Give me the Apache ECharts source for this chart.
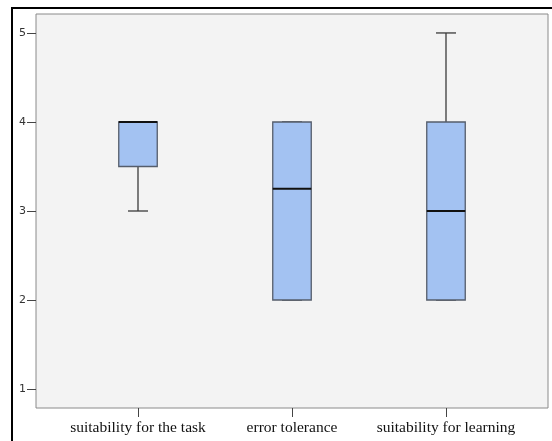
<!DOCTYPE html>
<html>
<head>
<meta charset="utf-8">
<script src="https://cdn.jsdelivr.net/npm/echarts@6/dist/echarts.min.js"></script>
<style>
  html, body { margin: 0; padding: 0; background: #fff; }
  #main { width: 552px; height: 441px; }
</style>
</head>
<body>
<div id="main"></div>
<script>
// categories and five-number summaries
var categories = ['suitability for the task', 'error tolerance', 'suitability for learning'];
var mins    = [3,   2,    2];
var q1s     = [3.5, 2,    2];
var medians = [4,   3.25, 3];
var q3s     = [4,   4,    4];
var maxs    = [4,   4,    5];
var yTicks  = [1, 2, 3, 4, 5];

var boxData = categories.map(function (c, i) {
  return [i, mins[i], q1s[i], medians[i], q3s[i], maxs[i]];
});

var yMin = 0.787, yMax = 5.213;

var chart = echarts.init(document.getElementById('main'));

function renderBox(params, api) {
  var idx = api.value(0);
  var pMin = api.coord([idx, api.value(1)]);
  var pQ1 = api.coord([idx, api.value(2)]);
  var pMed = api.coord([idx, api.value(3)]);
  var pQ3 = api.coord([idx, api.value(4)]);
  var pMax = api.coord([idx, api.value(5)]);
  var band = api.size([1, 0])[0];
  var bw = band * 0.25;
  var cw = bw * 0.52;
  var x = pQ1[0];
  var line = { stroke: '#3a3a3a', lineWidth: 1.3 };
  return {
    type: 'group',
    children: [
      { type: 'line', shape: { x1: x, y1: pQ3[1], x2: x, y2: pMax[1] }, style: line },
      { type: 'line', shape: { x1: x, y1: pQ1[1], x2: x, y2: pMin[1] }, style: line },
      { type: 'line', shape: { x1: x - cw / 2, y1: pMax[1], x2: x + cw / 2, y2: pMax[1] }, style: line },
      { type: 'line', shape: { x1: x - cw / 2, y1: pMin[1], x2: x + cw / 2, y2: pMin[1] }, style: line },
      {
        type: 'rect',
        shape: { x: x - bw / 2, y: pQ3[1], width: bw, height: pQ1[1] - pQ3[1] },
        style: { fill: '#a3c2f2', stroke: '#555d6b', lineWidth: 1.3 }
      },
      { type: 'line', shape: { x1: x - bw / 2, y1: pMed[1], x2: x + bw / 2, y2: pMed[1] }, style: { stroke: '#111', lineWidth: 2 } }
    ]
  };
}

var option = {
  animation: false,
  graphic: [{
    type: 'rect',
    shape: { x: 12, y: 8, width: 600, height: 500 },
    style: { fill: 'none', stroke: '#000', lineWidth: 2 },
    z: 100
  }],
  grid: [
    { left: 36, right: 4, top: 14, bottom: 33, show: true, backgroundColor: '#f3f3f3', borderColor: '#8a8a8a', borderWidth: 1 },
    { left: 61, right: 29, top: 14, bottom: 33 }
  ],
  xAxis: [
    { gridIndex: 0, type: 'value', min: 0, max: 1, show: false },
    {
      gridIndex: 1, type: 'category', data: categories,
      axisLine: { show: false },
      axisTick: { show: true, alignWithLabel: true, length: 9, lineStyle: { color: '#444' } },
      axisLabel: { interval: 0, color: '#111', fontFamily: 'Liberation Serif', fontSize: 15.5, margin: 12 },
      splitLine: { show: false }
    }
  ],
  yAxis: [
    {
      gridIndex: 0, type: 'value', min: yMin, max: yMax,
      axisLine: { show: false },
      axisTick: { show: true, length: 9, lineStyle: { color: '#444' },
        customValues: yTicks },
      axisLabel: { color: '#333', fontFamily: 'DejaVu Sans', fontSize: 11, margin: 10,
        customValues: yTicks },
      splitLine: { show: false }
    },
    { gridIndex: 1, type: 'value', min: yMin, max: yMax, show: false }
  ],
  series: [{
    type: 'custom',
    xAxisIndex: 1,
    yAxisIndex: 1,
    renderItem: renderBox,
    encode: { x: 0, y: [1, 2, 3, 4, 5] },
    data: boxData
  }]
};

chart.setOption(option);
</script>
</body>
</html>
